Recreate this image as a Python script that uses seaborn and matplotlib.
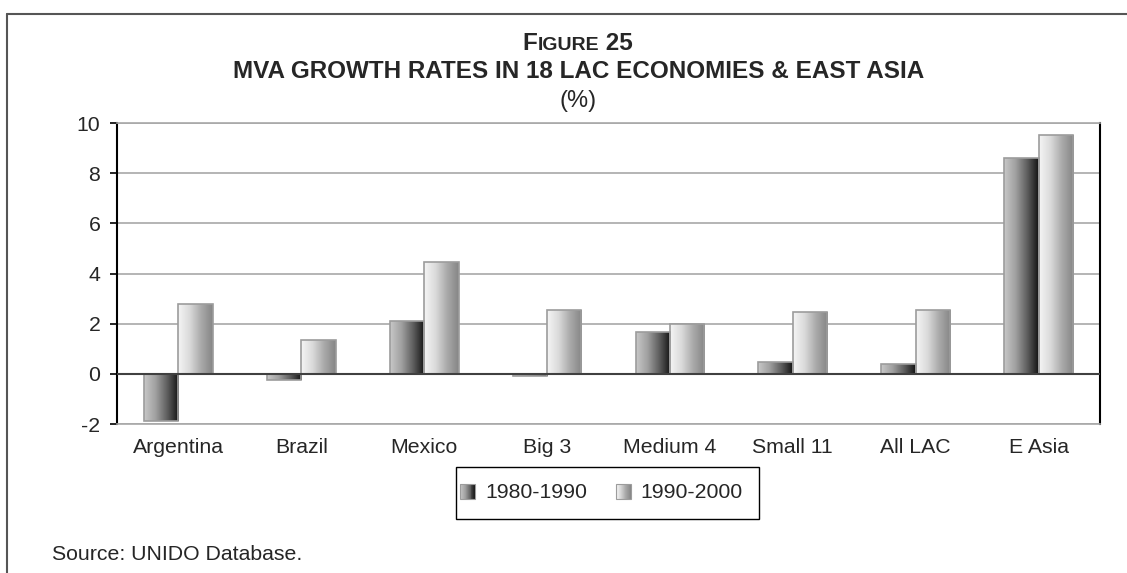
import numpy as np
import pandas as pd
import matplotlib
matplotlib.use('Agg')
import matplotlib.pyplot as plt
import seaborn as sns
from matplotlib.colors import LinearSegmentedColormap
from matplotlib.patches import Rectangle
from matplotlib.legend_handler import HandlerBase
from matplotlib.offsetbox import TextArea, HPacker, AnchoredOffsetbox
from matplotlib.lines import Line2D

## DATOS
categorias = ['Argentina', 'Brazil', 'Mexico', 'Big 3', 'Medium 4', 'Small 11', 'All LAC', 'E Asia']
periodos = ['1980-1990', '1990-2000']
crec_80s = [-1.89, -0.23, 2.12, -0.08, 1.65, 0.49, 0.40, 8.62]
crec_90s = [2.78, 1.36, 4.47, 2.53, 1.98, 2.45, 2.53, 9.51]
ticks_y = [-2, 0, 2, 4, 6, 8, 10]

df = pd.DataFrame({
    'grupo': categorias * 2,
    'periodo': [periodos[0]] * len(categorias) + [periodos[1]] * len(categorias),
    'tasa': crec_80s + crec_90s,
})

sns.set_style('white')
plt.rcParams['font.family'] = ['Liberation Sans', 'DejaVu Sans']
FS = 15.3  # tamaño de letra general

# degradados tipo "cilindro" de Excel
cmap_80 = LinearSegmentedColormap.from_list('d80', ['#c8c8c8', '#a0a0a0', '#5e5e5e', '#121212'])
cmap_90 = LinearSegmentedColormap.from_list('d90', ['#f5f5f5', '#dadada', '#a9a9a9', '#858585'])


class HandlerGradiente(HandlerBase):
    '''Cuadradito de leyenda con el mismo degradado que las barras'''
    def __init__(self, cmap):
        super().__init__()
        self.cmap = cmap

    def create_artists(self, legend, orig_handle, xdescent, ydescent, width, height, fontsize, trans):
        lado = height * 1.0
        x0 = -xdescent + (width - lado) / 2
        y0 = -ydescent + (height - lado) / 2
        n = 16
        artistas = []
        for i in range(n):
            artistas.append(Rectangle((x0 + i * lado / n, y0), lado / n, lado,
                                      facecolor=self.cmap((i + 0.5) / n), edgecolor='none', transform=trans))
        artistas.append(Rectangle((x0, y0), lado, lado, facecolor='none',
                                  edgecolor='#9c9c9c', lw=0.8, transform=trans))
        return artistas


fig = plt.figure(figsize=(11.27, 5.73), dpi=100)
ax = fig.add_axes([117 / 1127, 1 - 424 / 573, (1100 - 117) / 1127, (424 - 123) / 573])

sns.barplot(data=df, x='grupo', y='tasa', hue='periodo', order=categorias, hue_order=periodos,
            width=0.56, errorbar=None, legend=False, ax=ax)

grad = np.linspace(0, 1, 256).reshape(1, -1)
for cont, cmap in zip(ax.containers, [cmap_80, cmap_90]):
    for p in cont:
        x0, w = p.get_x(), p.get_width()
        y0, h = p.get_y(), p.get_height()
        im = ax.imshow(grad, extent=[x0, x0 + w, min(y0, y0 + h), max(y0, y0 + h)], cmap=cmap,
                       aspect='auto', interpolation='bilinear', zorder=2)
        im.set_clip_path(p)
        p.set_facecolor('none')
        p.set_edgecolor('#9c9c9c')
        p.set_linewidth(1.2)
        p.set_zorder(3)

ax.set_xlim(-0.5, len(categorias) - 0.5)
ax.set_ylim(-2, 10)
ax.set_yticks(ticks_y)
ax.set_yticklabels([str(t) for t in ticks_y])
ax.set_xlabel('')
ax.set_ylabel('')

ax.set_axisbelow(True)
ax.yaxis.grid(True, color='#a8a8a8', lw=1.2)
ax.axhline(0, color='#404040', lw=1.5, zorder=4)

for lado in ['left', 'right']:
    ax.spines[lado].set_color('black')
    ax.spines[lado].set_linewidth(1.5)
for lado in ['top', 'bottom']:
    ax.spines[lado].set_color('#a8a8a8')
    ax.spines[lado].set_linewidth(1.2)

ax.tick_params(axis='y', direction='out', length=5, width=1.2, color='black', left=True,
               labelsize=FS, pad=7)
ax.tick_params(axis='x', length=0, labelsize=FS, pad=10)

# leyenda (marco dibujado a mano para controlar el tamaño de la caja)
h1 = Rectangle((0, 0), 1, 1)
h2 = Rectangle((0, 0), 1, 1)
leg = fig.legend([h1, h2], periodos, handler_map={h1: HandlerGradiente(cmap_80), h2: HandlerGradiente(cmap_90)},
                 loc='center', bbox_to_anchor=(601 / 1127, 1 - 493 / 573), ncol=2, frameon=False,
                 fontsize=FS, handlelength=0.8, handletextpad=0.42, columnspacing=1.3,
                 borderpad=0, borderaxespad=0)
fig.add_artist(Rectangle((456 / 1127, 1 - 519 / 573), (759 - 456) / 1127, (519 - 467) / 573,
                         transform=fig.transFigure, facecolor='none', edgecolor='black', lw=1.0))

# título (con versalitas en "Figure")
caja = HPacker(children=[TextArea('F', textprops=dict(fontsize=17.5, fontweight='bold')),
                         TextArea('IGURE', textprops=dict(fontsize=14, fontweight='bold')),
                         TextArea(' 25', textprops=dict(fontsize=17.5, fontweight='bold'))],
               align='baseline', pad=0, sep=0)
fig.add_artist(AnchoredOffsetbox(loc='center', child=caja, bbox_to_anchor=(578 / 1127, 1 - 43 / 573),
                                 bbox_transform=fig.transFigure, frameon=False, pad=0, borderpad=0))
fig.text(579 / 1127, 1 - 71 / 573, 'MVA GROWTH RATES IN 18 LAC ECONOMIES & EAST ASIA',
         ha='center', va='center', fontsize=17.5, fontweight='bold')
fig.text(578 / 1127, 1 - 101 / 573, '(%)', ha='center', va='center', fontsize=17)

fig.text(52 / 1127, 1 - 555 / 573, 'Source: UNIDO Database.', fontsize=FS, va='center')

# marco exterior
fig.add_artist(Line2D([7 / 1127, 1], [1 - 14 / 573] * 2, transform=fig.transFigure, color='#555555', lw=1.5))
fig.add_artist(Line2D([7 / 1127] * 2, [0, 1 - 14 / 573], transform=fig.transFigure, color='#555555', lw=1.5))

fig.savefig('out.png', dpi=100)
